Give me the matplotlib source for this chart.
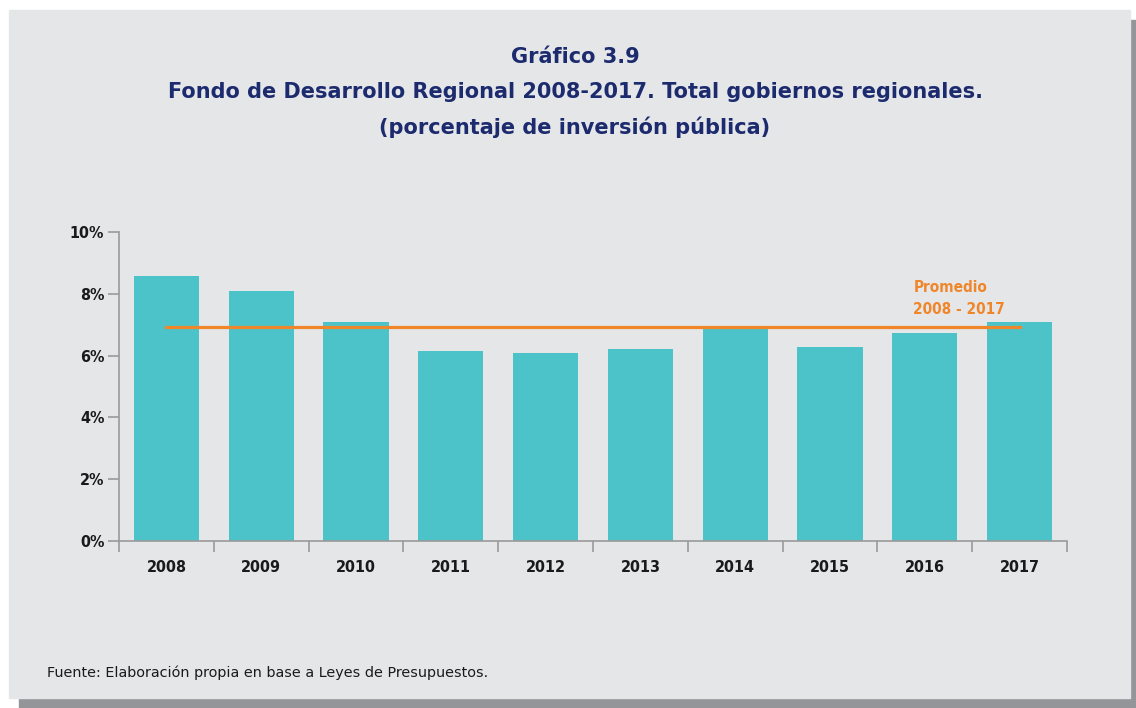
import matplotlib.pyplot as plt
from matplotlib.patches import Rectangle
import numpy as np

years = ["2008", "2009", "2010", "2011", "2012", "2013", "2014", "2015", "2016", "2017"]
values = [8.58, 8.09, 7.09, 6.15, 6.08, 6.21, 6.86, 6.28, 6.73, 7.09]
average = sum(values) / len(values)
yticks = [0, 2, 4, 6, 8, 10]

NAVY = "#1c2a6e"
TEAL = "#4cc3c9"
ORANGE = "#f0862a"
PANEL = "#e5e6e8"
SHADOW = "#939598"
AXIS = "#9a9a9a"

# narrow bold face for the axis labels
cond = dict(family="DejaVu Sans", stretch="condensed", weight="bold")

W, H = 1136, 708
fig = plt.figure(figsize=(W / 100, H / 100), dpi=100, facecolor="white")

# panel with drop shadow
fig.patches.append(Rectangle((19 / W, 0), (W - 19) / W, 1 - 20 / H,
                             transform=fig.transFigure, color=SHADOW, zorder=-2))
fig.patches.append(Rectangle((9 / W, 1 - 698 / H), (1130 - 9) / W, (698 - 10) / H,
                             transform=fig.transFigure, color=PANEL, zorder=-1))

ax = fig.add_axes([119 / W, 1 - 541 / H, (1067 - 119) / W, (541 - 232) / H])
ax.set_facecolor("none")

x = np.arange(len(years))
ax.bar(x, values, width=0.686, color=TEAL, zorder=2)
ax.plot([x[0], x[-1]], [average, average], color=ORANGE, lw=2.3, zorder=3)

ax.set_xlim(-0.5, len(years) - 0.5)
ax.set_ylim(0, 10)
ax.set_yticks(yticks)
ax.set_yticklabels([f"{v}%" for v in yticks], fontsize=11.5,
                   color="#1a1a1a", **cond)
ax.set_xticks(np.arange(len(years) + 1) - 0.5)
ax.set_xticklabels([])
ax.set_xticks(x, minor=True)
ax.set_xticklabels(years, minor=True, fontsize=11.5, color="#1a1a1a", **cond)
ax.tick_params(axis="x", which="minor", length=0, pad=14)
ax.tick_params(axis="x", which="major", length=8, width=1.2, color=AXIS)
ax.tick_params(axis="y", length=8, width=1.2, color=AXIS, pad=2.5)
for s in ["top", "right"]:
    ax.spines[s].set_visible(False)
for s in ["left", "bottom"]:
    ax.spines[s].set_color(AXIS)
    ax.spines[s].set_linewidth(1.2)

ax.text(x[-1] - 1.12, 7.85, "Promedio\n2008 - 2017", color=ORANGE,
        fontsize=11, linespacing=1.6, ha="left", va="center", **cond)

fig.text(575 / W, 1 - 57 / H, "Gráfico 3.9", ha="center", va="center",
         color=NAVY, fontsize=15, fontweight="bold")
fig.text(575 / W, 1 - 92 / H,
         "Fondo de Desarrollo Regional 2008-2017. Total gobiernos regionales.",
         ha="center", va="center", color=NAVY, fontsize=15, fontweight="bold")
fig.text(575 / W, 1 - 127 / H, "(porcentaje de inversión pública)",
         ha="center", va="center", color=NAVY, fontsize=15, fontweight="bold")

fig.text(47 / W, 1 - 673 / H,
         "Fuente: Elaboración propia en base a Leyes de Presupuestos.",
         ha="left", va="center", color="#1a1a1a", fontsize=10.4)

fig.savefig("out.png", dpi=100, facecolor="white")
